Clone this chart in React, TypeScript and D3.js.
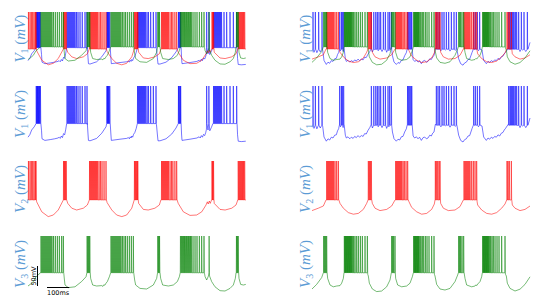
import React from 'react';
import * as d3 from 'd3';

// time axis (ms) and spike peak (mV)
const T_END = 981;
const SPIKE_PEAK = 50;

// ---- left column: [t (ms), V (mV)] sub-threshold samples + spike times ----
const LEFT_BLUE_BASE: [number, number][] = [
  [0, -78], [8, -72], [16.5, -60], [28, -52], [36, -44],
  [58, -44], [61, -62], [63, -82], [76, -86], [100, -84], [120, -82], [135, -80], [140, -78], [145, -81], [150, -75], [155, -79], [160, -69], [165, -72], [170, -58], [174, -44],
  [267, -46], [270, -70], [272, -86], [279, -87], [309, -81], [332, -68], [351, -52], [354, -44],
  [370, -44], [373, -70], [375, -86], [414, -83], [444, -81], [452, -79], [456, -82], [460, -77], [464, -80], [467, -75], [471, -78], [475, -71], [481, -66], [487, -56], [492, -44],
  [578, -46], [582, -70], [585, -87], [594, -87], [621, -82], [647, -70], [666, -55], [676, -44],
  [689, -44], [691, -70], [693, -86], [729, -83], [760, -80], [770, -77], [775, -80], [780, -74], [785, -78], [790, -71], [795, -74], [800, -66], [803, -58],
  [810, -60], [818, -62], [825, -54], [832, -44],
  [941, -46], [943, -72], [946, -88], [960, -89], [980, -88],
];
const LEFT_BLUE_SPIKES = [
  37, 40, 43, 46, 49, 52, 56,
  175.5, 180, 184.5, 189, 193.5, 198, 202.5, 207, 211.5, 218, 225, 234, 244, 256.5, 265.5,
  355, 358, 361, 364, 368,
  493, 497, 502, 506, 511, 515, 520, 524, 529, 535.5, 542, 552, 564, 576,
  677, 680, 684, 687,
  804, 814,
  835, 839, 844, 848, 853, 857, 862, 866, 871, 882, 894, 909, 924, 939,
];

const LEFT_RED_BASE: [number, number][] = [
  [0, -47.5],
  [38, -47.5], [39, -52], [62, -77], [91, -89], [114, -85], [136, -72.5], [159, -47.5],
  [174, -47.5], [179, -56], [197, -68], [219, -72.5], [249, -68], [267, -60], [276, -47.5],
  [353, -47.5], [356, -54], [377, -72.5], [399, -85], [422, -89], [444, -85], [467, -68], [478, -47.5],
  [496, -47.5], [498, -56], [519, -71], [541, -72.5], [571, -68], [591, -60], [598, -47.5],
  [671, -47.5], [676, -56], [699, -77], [729, -86], [759, -85], [782, -77], [801, -60], [807, -52], [811, -57.5], [816, -50], [820, -56], [826, -47.5],
  [837, -47.5], [838, -56], [864, -71], [887, -72.5], [917, -68], [936, -60], [944, -47.5],
  [980, -47.5],
];
const LEFT_RED_SPIKES = [
  2, 9, 15, 21, 27, 33, 36,
  160, 164, 168, 172,
  277, 281, 286, 290, 295, 299, 304, 308, 313, 319.5, 326, 333, 342, 351,
  479, 483, 487, 491, 494,
  601, 605, 610, 614, 619, 623, 628, 632, 639, 646, 652, 661, 669,
  828, 831, 835,
  946, 950, 954, 958, 962, 966, 970, 975,
];

const LEFT_GREEN_BASE: [number, number][] = [
  [0, -75], [12, -70], [24, -64], [36, -52], [46, -47.5], [55, -42],
  [161, -43], [164, -60], [166.5, -72.5], [181, -79], [211.5, -77], [241, -64], [261, -52], [265, -42],
  [280, -42], [282, -56], [291, -72.5], [309, -75], [332, -74], [337, -76], [341, -72], [346, -73], [351, -68], [357, -64], [366, -52], [372, -42],
  [476, -43], [480, -60], [484.5, -72.5], [504, -81], [534, -82.5], [564, -72.5], [579, -56], [583, -42],
  [594, -42], [597, -56], [606, -72.5], [631.5, -75], [654, -72.5], [672, -64], [681, -52], [685, -42],
  [794, -43], [797, -52], [804, -60], [812, -50],
  [817, -50], [826.5, -64], [841.5, -77], [864, -86.7], [886.5, -87.5], [909, -81], [924, -72.5], [933, -56], [936, -42],
  [948, -42], [949.5, -56], [957, -71], [969, -72.5], [980, -71],
];
const LEFT_GREEN_SPIKES = [
  58.5, 63, 67.5, 72, 76.5, 81, 85.5, 90, 94.5, 99, 103.5, 108, 115, 123, 132, 141, 151.5, 159,
  266, 270, 274, 278,
  373.5, 378, 382.5, 387, 391.5, 396, 400.5, 405, 409.5, 414, 418.5, 425, 432, 439, 447, 456, 465, 474,
  584, 588, 592,
  686, 691, 695, 700, 704, 708, 713, 717, 722, 726, 731, 735, 742.5, 751.5, 760.5, 771, 781.5, 792,
  815,
  938, 942, 946,
];

// ---- right column ----
const RIGHT_BLUE_BASE: [number, number][] = [
  [0, -52], [9, -56], [22, -57], [37, -55],
  [48, -50], [54, -77.5], [64.5, -88], [72, -82], [79.5, -85], [87, -78], [94.5, -80], [102, -73], [109.5, -72], [115, -62], [120, -56.7], [123, -48],
  [128, -52], [140, -54],
  [145, -48], [150, -73], [154.5, -80], [162, -77], [170, -82], [177, -78], [185, -81], [192, -76], [199.5, -79], [207, -74], [214, -78], [222, -74], [230, -76], [237, -69], [244, -70], [252, -61], [260, -54], [265, -48],
  [272, -55], [283, -50], [298, -52], [315, -54], [326, -50], [336, -56], [346, -52],
  [359, -50], [362, -65], [369, -81.7], [379.5, -88], [387, -83], [394.5, -85], [402, -77], [409.5, -76], [417, -65], [424.5, -57], [428, -48],
  [451, -48], [455, -75], [462, -80], [470, -77], [477, -82], [484, -78], [492, -86], [500, -79], [507, -77.5], [515, -82], [522, -80], [530, -73], [537, -75], [543, -68], [549, -65], [555, -46],
  [580, -52], [600, -50], [621, -53], [645, -51],
  [652, -48], [660, -73], [669, -86], [679.5, -90], [687, -84], [694.5, -82], [702, -75], [709.5, -74], [715, -65], [720, -56.7], [726, -48],
  [749, -52],
  [757, -48], [765, -50], [772.5, -77.5], [784.5, -86], [792, -80], [799.5, -83], [807, -78], [814.5, -81], [822, -76], [829.5, -78], [837, -72], [844.5, -75], [852, -68], [859.5, -66], [865, -60], [870, -56.7], [882, -46.7],
  [926, -50], [936, -54], [948, -50], [962, -54],
  [972, -48], [976, -40], [981, -30],
];
const RIGHT_BLUE_SPIKES = [
  4.5, 15, 30, 45,
  124.5, 132, 136.5, 142.5,
  267, 278, 287, 294, 301.5, 309, 321, 330, 342, 349.5, 357,
  430, 435, 440, 445, 449,
  559.5, 567, 574.5, 585, 594, 604.5, 615, 627, 639, 649.5,
  727.5, 735, 744, 754.5,
  885, 891, 895.5, 900, 904.5, 909, 915, 921, 930, 942, 954, 969,
];

const RIGHT_RED_BASE: [number, number][] = [
  [0, -74], [28.5, -68], [51, -62.5], [63, -47.5],
  [121, -47.5], [126, -56], [141, -68], [163.5, -79], [186, -83], [208.5, -81], [231, -71], [246, -56], [252, -47.5],
  [269, -47.5], [271.5, -56], [283.5, -68], [306, -74], [336, -71], [358.5, -62.5], [373.5, -47.5],
  [433, -47.5], [436.5, -52], [448.5, -66], [471, -77], [493.5, -83], [516, -81], [538.5, -71], [550.5, -57.5], [553.5, -47.5],
  [578, -47.5], [579, -56], [591, -68], [613.5, -74], [643.5, -72.5], [666, -64], [681, -47.5],
  [743, -52], [745.5, -60], [763.5, -72.5], [786, -81], [808.5, -83], [831, -79], [853.5, -68], [868.5, -57.5], [876, -47.5],
  [899, -47.5], [901.5, -60], [913.5, -68], [936, -74], [958.5, -71], [981, -62.5],
];
const RIGHT_RED_SPIKES = [
  66, 70.5, 75, 79.5, 84, 88.5, 93, 97.5, 103.5, 111, 118.5,
  253.5, 258, 262.5, 267,
  376.5, 381, 385.5, 390, 394.5, 399, 403.5, 409.5, 415.5, 423, 430.5,
  555, 559.5, 565.5, 571.5, 576,
  684, 688.5, 693, 697.5, 702, 706.5, 711, 718.5, 726, 733.5, 741,
  877.5, 882, 888, 897,
];

const RIGHT_GREEN_BASE: [number, number][] = [
  [0, -82.5], [21, -71], [43.5, -54], [51, -42],
  [68, -42], [70.5, -56], [81, -72.5], [96, -77], [111, -75], [126, -74], [133.5, -68], [141, -56], [144, -42],
  [251, -46], [253.5, -50], [258, -68], [271.5, -82.5], [291, -89], [313.5, -87.5], [336, -77], [351, -60], [357, -42],
  [375, -42], [376.5, -56], [385.5, -72.5], [403.5, -77], [426, -75], [441, -68], [451.5, -52], [456, -42],
  [551, -46], [553.5, -50], [561, -71], [576, -82.5], [598.5, -85], [621, -81], [643.5, -64], [655.5, -47.5], [658.5, -42],
  [684.5, -42], [688.5, -56], [696, -72.5], [718.5, -77], [733.5, -75], [738, -72], [741, -74], [746, -70], [756, -64], [763.5, -52], [766.5, -42],
  [871, -46], [874.5, -50], [879, -68], [891, -81], [913.5, -87.5], [936, -83], [958.5, -71], [981, -52],
];
const RIGHT_GREEN_SPIKES = [
  52.5, 57, 61.5, 66,
  145.5, 148.5, 151.5, 154.5, 157.5, 160.5, 163.5, 166.5, 169.5, 172.5, 175.5, 178.5, 183, 187.5, 193.5, 201, 208.5, 217.5, 226.5, 238.5, 249,
  358.5, 363, 367.5, 373.5,
  457.5, 460.5, 463.5, 466.5, 469.5, 472.5, 475.5, 478.5, 481.5, 486, 490.5, 496.5, 502.5, 510, 517.5, 526.5, 538.5, 549,
  660, 664.5, 669, 675, 682.5,
  768, 771, 774, 777, 780, 783, 786, 789, 792, 795, 799.5, 804, 810, 816, 823.5, 832.5, 841.5, 853.5, 868.5,
];

// spike foot (plateau) per trace, mV
const LEFT_FEET = [-44, -47.5, -42];
const RIGHT_FEET = [-48, -47.5, -42];

const COLORS = ['#0000ff', '#ff0000', '#008000'];
const LABELS = ['1', '1', '2', '3'];

type Pt = { t: number; v: number };

const buildTrace = (base: [number, number][], spikes: number[], foot: number): Pt[] => {
  const pts: Pt[] = base.map(([t, v]) => ({ t, v }));
  spikes.forEach(t => {
    pts.push({ t: t - 0.8, v: foot }, { t, v: SPIKE_PEAK }, { t: t + 1.5, v: foot });
  });
  pts.sort((a, b) => a.t - b.t);
  return pts;
};

const LEFT_TRACES = [
  buildTrace(LEFT_BLUE_BASE, LEFT_BLUE_SPIKES, LEFT_FEET[0]),
  buildTrace(LEFT_RED_BASE, LEFT_RED_SPIKES, LEFT_FEET[1]),
  buildTrace(LEFT_GREEN_BASE, LEFT_GREEN_SPIKES, LEFT_FEET[2]),
];
const RIGHT_TRACES = [
  buildTrace(RIGHT_BLUE_BASE, RIGHT_BLUE_SPIKES, RIGHT_FEET[0]),
  buildTrace(RIGHT_RED_BASE, RIGHT_RED_SPIKES, RIGHT_FEET[1]),
  buildTrace(RIGHT_GREEN_BASE, RIGHT_GREEN_SPIKES, RIGHT_FEET[2]),
];

const W = 551;
const H = 307;
const ROW_TOPS = [12, 86, 161, 236];
const ROW_K = [0.38, 0.4, 0.4, 0.4]; // px per mV
const V_MIN = -90;

const yScaleFor = (row: number) =>
  d3.scaleLinear().domain([V_MIN, SPIKE_PEAK]).range([ROW_TOPS[row] + (SPIKE_PEAK - V_MIN) * ROW_K[row], ROW_TOPS[row]]);

const leftX = d3.scaleLinear().domain([0, T_END]).range([28, 246]);
const rightX = d3.scaleLinear().domain([0, T_END]).range([312, 530]);

const LABEL_COLOR = '#5b9bd5';

const YLabel = ({ x, y, sub }: { x: number; y: number; sub: string }) => (
  <text
    transform={`translate(${x},${y}) rotate(-90)`}
    textAnchor="middle"
    fill={LABEL_COLOR}
    style={{ fontFamily: '"Liberation Serif", serif', fontSize: 15 }}
  >
    <tspan fontStyle="italic">V</tspan>
    <tspan fontSize={10} dy={3}>{sub}</tspan>
    <tspan dy={-3}>{'\u00a0('}</tspan>
    <tspan fontStyle="italic">mV</tspan>
    <tspan>)</tspan>
  </text>
);

const Column = ({ traces, x, labelX }: { traces: Pt[][]; x: d3.ScaleLinear<number, number>; labelX: number }) => {
  const rows = [
    { row: 0, idx: [0, 1, 2] },
    { row: 1, idx: [0] },
    { row: 2, idx: [1] },
    { row: 3, idx: [2] },
  ];
  return (
    <g>
      {rows.map(({ row, idx }) => {
        const y = yScaleFor(row);
        const line = d3.line<Pt>().x(d => x(d.t)).y(d => y(d.v));
        const mid = (y(V_MIN) + y(SPIKE_PEAK)) / 2;
        return (
          <g key={row}>
            {idx.map(i => (
              <path
                key={i}
                d={line(traces[i]) || ''}
                fill="none"
                stroke={COLORS[i]}
                strokeOpacity={0.6}
                strokeWidth={0.9}
              />
            ))}
            <YLabel x={labelX} y={mid} sub={LABELS[row]} />
          </g>
        );
      })}
    </g>
  );
};

const ScaleBar = () => {
  const y = yScaleFor(3);
  const barV = y(0) - y(50);
  const barT = leftX(100) - leftX(0);
  const vx = 37.5;
  const vy1 = 286;
  const hx = 47;
  const hy = 287.5;
  return (
    <g style={{ fontFamily: '"DejaVu Sans", sans-serif', fontSize: 6.5 }} fill="#000">
      <line x1={vx} x2={vx} y1={vy1 - barV} y2={vy1} stroke="#000" strokeWidth={1} />
      <text transform={`translate(${vx - 2},${vy1 - barV / 2}) rotate(-90)`} textAnchor="middle">50mV</text>
      <line x1={hx} x2={hx + barT} y1={hy} y2={hy} stroke="#000" strokeWidth={1} />
      <text x={hx + barT / 2} y={hy + 7.5} textAnchor="middle">100ms</text>
    </g>
  );
};

export default function App() {
  return (
    <div style={{ position: 'absolute', left: 0, top: 0 }}>
      <svg width={W} height={H} viewBox={`0 0 ${W} ${H}`} style={{ display: 'block', background: '#fff' }}>
        <Column traces={LEFT_TRACES} x={leftX} labelX={25} />
        <Column traces={RIGHT_TRACES} x={rightX} labelX={310} />
        <ScaleBar />
      </svg>
    </div>
  );
}
